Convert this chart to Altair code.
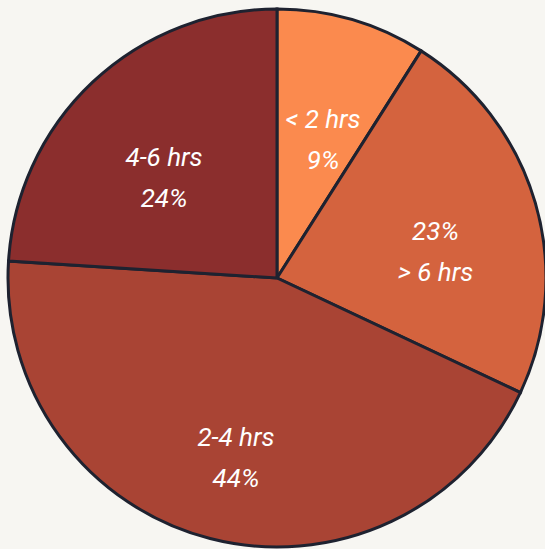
import altair as alt
import pandas as pd

# Daily screen-time buckets, clockwise from 12 o'clock
categories = ["< 2 hrs", "> 6 hrs", "2-4 hrs", "4-6 hrs"]
shares = [9, 23, 44, 24]
colors = ["#fb8a4e", "#d4633e", "#a94434", "#8b2e2d"]
# the "> 6 hrs" slice shows its percentage first
pct_first = [False, True, False, False]

labels = []
for name, pct, first in zip(categories, shares, pct_first):
    p = f"{pct}%"
    labels.append(f"{p}\n{name}" if first else f"{name}\n{p}")

df = pd.DataFrame({
    "idx": list(range(len(categories))),
    "category": categories,
    "share": shares,
    "label": labels,
})

base = alt.Chart(df).encode(
    theta=alt.Theta("share:Q", stack=True),
    order=alt.Order("idx:Q"),
    x=alt.value(277),
    y=alt.value(278),
)

arcs = base.mark_arc(radius=269, stroke="#1e2230", strokeWidth=3).encode(
    color=alt.Color(
        "category:N",
        scale=alt.Scale(domain=categories, range=colors),
        legend=None,
    )
)

text = base.mark_text(
    radius=165,
    font="Roboto",
    fontStyle="italic",
    fontSize=26,
    color="white",
    lineBreak="\n",
    lineHeight=41,
    align="center",
    baseline="middle",
).encode(text="label:N")

chart = (
    alt.layer(arcs, text)
    .properties(width=545, height=549, background="#f7f6f2", padding=0,
                autosize=alt.AutoSizeParams(type="none"))
    .configure_view(stroke=None)
)

chart.save("out.html", embed_options={"renderer": "svg", "actions": False})
